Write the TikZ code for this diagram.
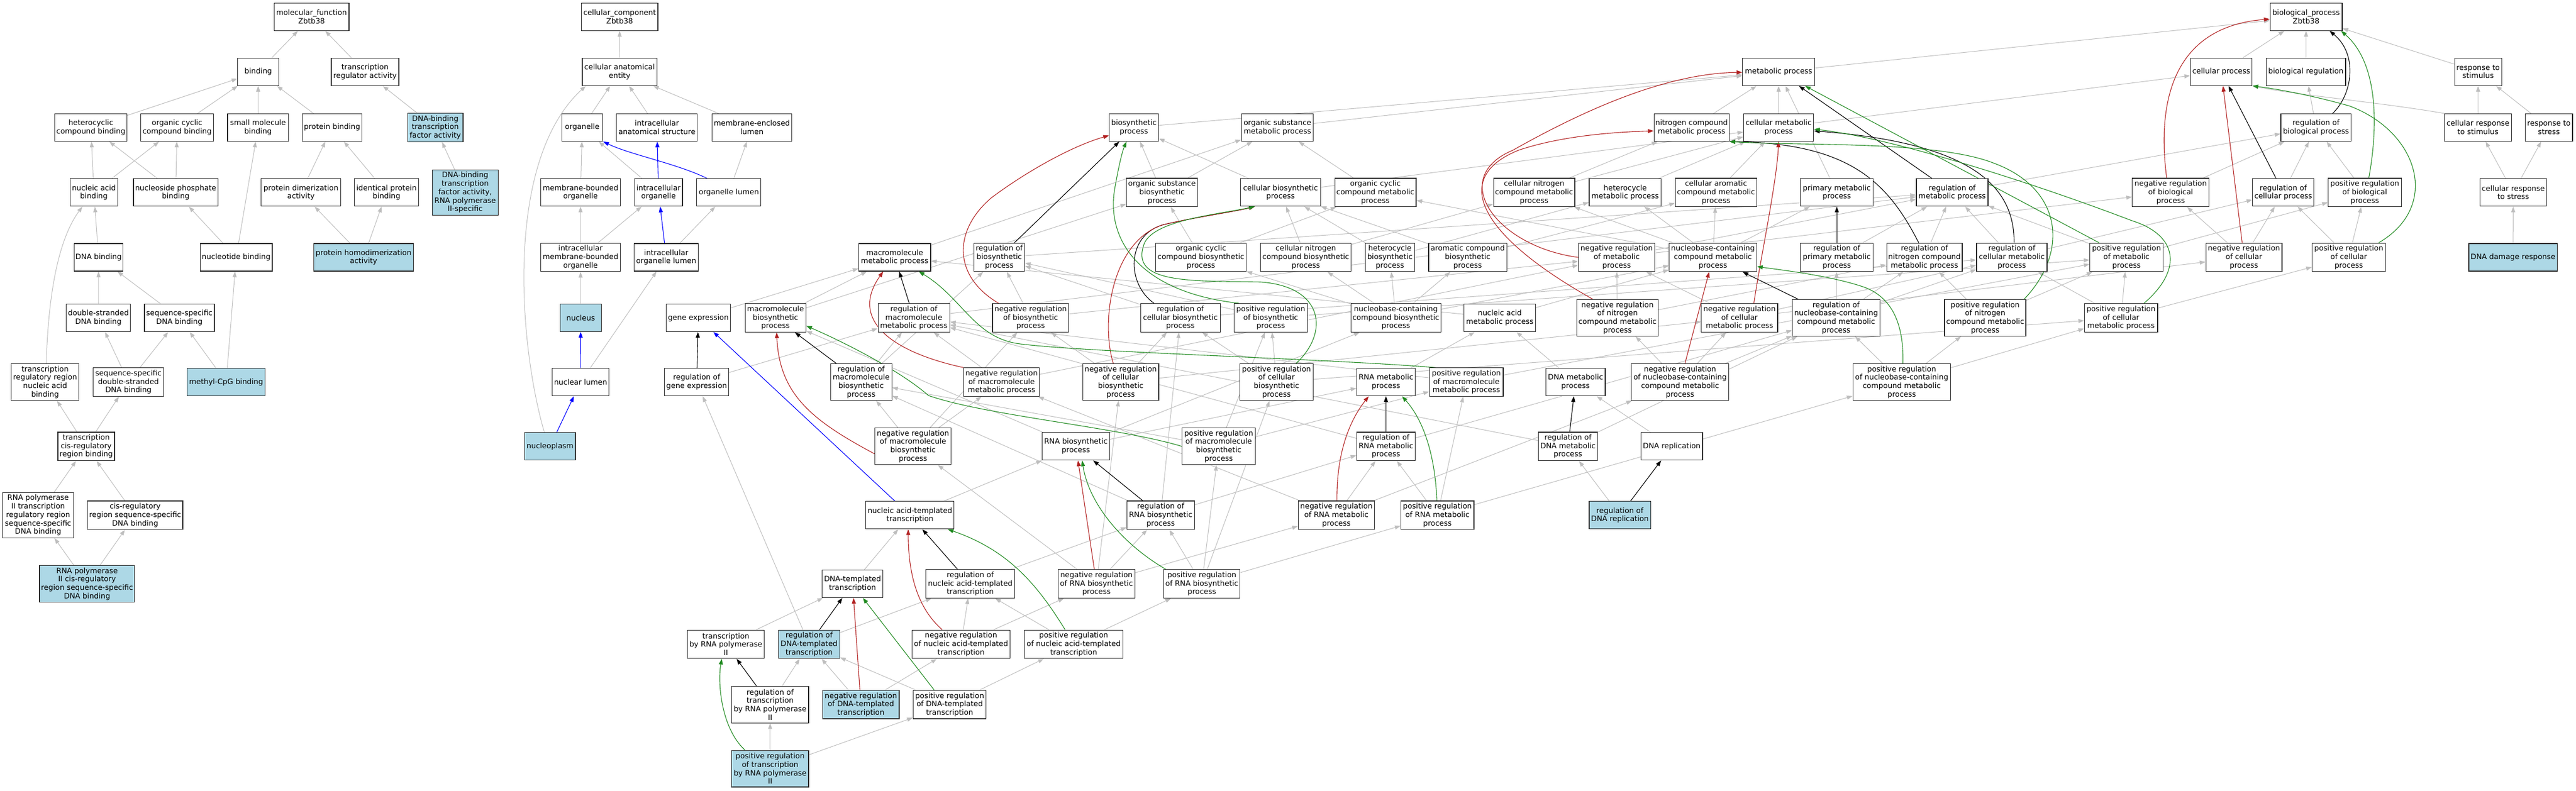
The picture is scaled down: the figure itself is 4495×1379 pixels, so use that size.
\documentclass[tikz,border=0pt]{standalone}
\usepackage{fontspec}
\setmainfont{DejaVu Sans}
\usetikzlibrary{arrows.meta}
\definecolor{eg}{RGB}{190,190,190}
\definecolor{lb}{RGB}{173,216,230}
\definecolor{fr}{RGB}{178,34,34}
\definecolor{fg}{RGB}{34,139,34}
\definecolor{bd}{RGB}{40,40,40}
\pgfdeclarelayer{edges}
\pgfsetlayers{edges,main}
\begin{document}
\begin{tikzpicture}[x=1pt,y=-1pt,
 box/.style={draw=bd,line width=1.2pt,fill=white,align=center,inner sep=1pt,minimum height=48pt,font=\fontsize{12.9}{14.7}\selectfont},
 hl/.style={fill=lb},
 t3/.style={minimum height=49.6pt},
 t4/.style={minimum height=63.8pt},
 t5/.style={minimum height=78.8pt},
 arw/.style={-{Triangle[length=10pt,width=7pt]}},
 eg0/.style={arw,color=eg,line width=1pt},
 gblack/.style={arw,color=black,line width=1.1pt},
 gred/.style={arw,color=fr,line width=1.1pt},
 ggreen/.style={arw,color=fg,line width=1.1pt},
 gblue/.style={arw,color=blue,line width=1.1pt}]
\useasboundingbox (0,0) rectangle (4495,1379);
% ---------------- R0
\node[box,minimum width=130.6pt] (mf) at (543.6,29.3) {molecular\_function\\Zbtb38};
\node[box,minimum width=133.5pt] (cc) at (1081.3,29.3) {cellular\_component\\Zbtb38};
\node[box,minimum width=125.8pt] (bp) at (4024,29.3) {biological\_process\\Zbtb38};
% ---------------- R1
\node[box,minimum width=71.7pt] (bind) at (450.6,125.2) {binding};
\node[box,minimum width=118pt] (tra) at (636.9,125.2) {transcription\\regulator activity};
\node[box,minimum width=130.6pt] (cae) at (1081.2,125.2) {cellular anatomical\\entity};
\node[box,minimum width=125.5pt] (met) at (3103.6,125.2) {metabolic process};
\node[box,minimum width=107.5pt] (cp) at (3876,125.2) {cellular process};
\node[box,minimum width=138.4pt] (breg) at (4023.7,125.2) {biological regulation};
\node[box,minimum width=82.1pt] (rstim) at (4324.2,125.2) {response to\\stimulus};
% ---------------- R2
\node[box,minimum width=125.8pt] (hcb) at (158.6,222.4) {heterocyclic\\compound binding};
\node[box,minimum width=126.3pt] (occb) at (309,222.4) {organic cyclic\\compound binding};
\node[box,minimum width=106.7pt] (smb) at (450.3,222.4) {small molecule\\binding};
\node[box,minimum width=103.8pt] (pb) at (579.5,222.4) {protein binding};
\node[box,hl,t3,minimum width=96.7pt] (dbtf) at (759.6,222.4) {DNA-binding\\transcription\\factor activity};
\node[box,minimum width=71.7pt] (org) at (1016,222.4) {organelle};
\node[box,minimum width=141.1pt] (ias) at (1146.3,222.4) {intracellular\\anatomical structure};
\node[box,minimum width=138.7pt] (mel) at (1312,222.4) {membrane-enclosed\\lumen};
\node[box,minimum width=85.7pt] (bio) at (1978.6,222.4) {biosynthetic\\process};
\node[box,minimum width=125.5pt] (osm) at (2229,222.4) {organic substance\\metabolic process};
\node[box,minimum width=131.1pt] (ncm) at (2951.7,222.4) {nitrogen compound\\metabolic process};
\node[box,minimum width=122.5pt] (cmp) at (3103.6,222.4) {cellular metabolic\\process};
\node[box,minimum width=122.7pt] (rbp) at (4041.3,222.4) {regulation of\\biological process};
\node[box,minimum width=117.2pt] (crstim) at (4323.9,222.4) {cellular response\\to stimulus};
\node[box,minimum width=82.6pt] (rstress) at (4447.6,222.4) {response to\\stress};
% ---------------- R3
\node[box,minimum width=82.8pt] (nab) at (163.8,335.8) {nucleic acid\\binding};
\node[box,minimum width=147.4pt] (npb) at (306.6,335.8) {nucleoside phosphate\\binding};
\node[box,minimum width=138.7pt] (pda) at (525.2,335.8) {protein dimerization\\activity};
\node[box,minimum width=112pt] (ipb) at (674.4,335.8) {identical protein\\binding};
\node[box,hl,t5,minimum width=114.8pt] (dbtf2) at (811.7,335.8) {DNA-binding\\transcription\\factor activity,\\RNA polymerase\\II-specific};
\node[box,minimum width=138.7pt] (mbo) at (1013,335.8) {membrane-bounded\\organelle};
\node[box,minimum width=83.7pt] (io) at (1149.1,335.8) {intracellular\\organelle};
\node[box,minimum width=111.9pt] (ol) at (1271.8,335.8) {organelle lumen};
\node[box,t3,minimum width=123.5pt] (osb) at (2027.6,335.8) {organic substance\\biosynthetic\\process};
\node[box,minimum width=139.3pt] (cbp) at (2234.5,335.8) {cellular biosynthetic\\process};
\node[box,t3,minimum width=141.8pt] (occm) at (2400,335.8) {organic cyclic\\compound metabolic\\process};
\node[box,t3,minimum width=141.8pt] (cncm) at (2677,335.8) {cellular nitrogen\\compound metabolic\\process};
\node[box,minimum width=125.5pt] (hmp) at (2835.8,335.8) {heterocycle\\metabolic process};
\node[box,t3,minimum width=141.8pt] (cacm) at (2994.4,335.8) {cellular aromatic\\compound metabolic\\process};
\node[box,minimum width=126.6pt] (pmp) at (3205.1,335.8) {primary metabolic\\process};
\node[box,minimum width=125pt] (rmp) at (3406.4,335.8) {regulation of\\metabolic process};
\node[box,t3,minimum width=133.8pt] (nrbp) at (3787.7,335.8) {negative regulation\\of biological\\process};
\node[box,minimum width=107pt] (rcp) at (3984.2,335.8) {regulation of\\cellular process};
\node[box,t3,minimum width=127.8pt] (prbp) at (4126.4,335.8) {positive regulation\\of biological\\process};
\node[box,minimum width=116.6pt] (crstress) at (4385.5,335.8) {cellular response\\to stress};
% ---------------- R4
\node[box,minimum width=85.6pt] (dnab) at (172,449) {DNA binding};
\node[box,minimum width=125.8pt] (ntb) at (412.1,449) {nucleotide binding};
\node[box,hl,minimum width=173.6pt] (phda) at (634.5,449) {protein homodimerization\\activity};
\node[box,t3,minimum width=138.7pt] (imbo) at (1013,449) {intracellular\\membrane-bounded\\organelle};
\node[box,minimum width=112.4pt] (iol) at (1162.5,449) {intracellular\\organelle lumen};
\node[box,minimum width=125.5pt] (mmp) at (1561.2,449) {macromolecule\\metabolic process};
\node[box,t3,minimum width=88.3pt] (rbio) at (1743.7,449) {regulation of\\biosynthetic\\process};
\node[box,t3,minimum width=157.7pt] (occb2) at (2095.6,449) {organic cyclic\\compound biosynthetic\\process};
\node[box,t3,minimum width=158.2pt] (cncb) at (2278.6,449) {cellular nitrogen\\compound biosynthetic\\process};
\node[box,t3,minimum width=86.3pt] (hbp) at (2425.3,449) {heterocycle\\biosynthetic\\process};
\node[box,t3,minimum width=136.2pt] (acb) at (2561,449) {aromatic compound\\biosynthetic\\process};
\node[box,t3,minimum width=132.6pt] (nrmp) at (2820.9,449) {negative regulation\\of metabolic\\process};
\node[box,t3,minimum width=152.5pt] (nbcm) at (2989,449) {nucleobase-containing\\compound metabolic\\process};
\node[box,t3,minimum width=126.6pt] (rpmp) at (3205.1,449) {regulation of\\primary metabolic\\process};
\node[box,t3,minimum width=131.6pt] (rncm) at (3358.1,449) {regulation of\\nitrogen compound\\metabolic process};
\node[box,t3,minimum width=122.9pt] (rcmp) at (3510.5,449) {regulation of\\cellular metabolic\\process};
\node[box,t3,minimum width=127.8pt] (prmp) at (3710.6,449) {positive regulation\\of metabolic\\process};
\node[box,t3,minimum width=132.8pt] (nrcp) at (3915.5,449) {negative regulation\\of cellular\\process};
\node[box,t3,minimum width=127.8pt] (prcp) at (4098.5,449) {positive regulation\\of cellular\\process};
\node[box,hl,minimum width=154.2pt] (ddr) at (4385,449) {DNA damage response};
% ---------------- R5
\node[box,minimum width=112pt] (dsdb) at (171.7,554.5) {double-stranded\\DNA binding};
\node[box,minimum width=122pt] (ssdb) at (313,554.5) {sequence-specific\\DNA binding};
\node[box,hl,minimum width=72.2pt] (nuc) at (1013.3,554.5) {nucleus};
\node[box,minimum width=112.4pt] (ge) at (1218.5,554.5) {gene expression};
\node[box,t3,minimum width=106.2pt] (mbp) at (1353.2,554.5) {macromolecule\\biosynthetic\\process};
\node[box,t3,minimum width=125pt] (rmmp) at (1594.6,554.5) {regulation of\\macromolecule\\metabolic process};
\node[box,t3,minimum width=132.7pt] (nrbio) at (1798.4,554.5) {negative regulation\\of biosynthetic\\process};
\node[box,t3,minimum width=138.8pt] (rcbp) at (2059.7,554.5) {regulation of\\cellular biosynthetic\\process};
\node[box,t3,minimum width=127.5pt] (prbio) at (2217.4,554.5) {positive regulation\\of biosynthetic\\process};
\node[box,t3,minimum width=157.2pt] (nbcb) at (2435.7,554.5) {nucleobase-containing\\compound biosynthetic\\process};
\node[box,minimum width=125pt] (namp) at (2617.1,554.5) {nucleic acid\\metabolic process};
\node[box,t4,minimum width=141.9pt] (nrncm) at (2822.4,554.5) {negative regulation\\of nitrogen\\compound metabolic\\process};
\node[box,t3,minimum width=133.1pt] (nrcmp) at (3035.4,554.5) {negative regulation\\of cellular\\metabolic process};
\node[box,t4,minimum width=152.5pt] (rnbcm) at (3203.9,554.5) {regulation of\\nucleobase-containing\\compound metabolic\\process};
\node[box,t4,minimum width=142pt] (prncm) at (3464,554.5) {positive regulation\\of nitrogen\\compound metabolic\\process};
\node[box,t3,minimum width=127.8pt] (prcmp) at (3701.1,554.5) {positive regulation\\of cellular\\metabolic process};
% ---------------- R6
\node[box,t4,minimum width=118.2pt] (trrnab) at (78.7,666.6) {transcription\\regulatory region\\nucleic acid\\binding};
\node[box,t3,minimum width=123pt] (ssdsdb) at (224.1,666.6) {sequence-specific\\double-stranded\\DNA binding};
\node[box,hl,minimum width=135.8pt] (mcpg) at (394.6,666.6) {methyl-CpG binding};
\node[box,minimum width=98.5pt] (nl) at (1013.1,666.6) {nuclear lumen};
\node[box,minimum width=112.4pt] (rge) at (1215.6,666.6) {regulation of\\gene expression};
\node[box,t4,minimum width=106.8pt] (rmbp) at (1502.7,666.6) {regulation of\\macromolecule\\biosynthetic\\process};
\node[box,t3,minimum width=132.2pt] (nrmmp) at (1747.7,666.6) {negative regulation\\of macromolecule\\metabolic process};
\node[box,t4,minimum width=132.6pt] (nrcbp) at (1955.6,666.6) {negative regulation\\of cellular\\biosynthetic\\process};
\node[box,t4,minimum width=128.5pt] (prcbp) at (2227.5,666.6) {positive regulation\\of cellular\\biosynthetic\\process};
\node[box,minimum width=102pt] (rnamp) at (2418.4,666.6) {RNA metabolic\\process};
\node[box,t3,minimum width=128.6pt] (prmmp) at (2558.7,666.6) {positive regulation\\of macromolecule\\metabolic process};
\node[box,minimum width=103.6pt] (dnamp) at (2749.2,666.6) {DNA metabolic\\process};
\node[box,t4,minimum width=170.4pt] (nrnbcm) at (2931.6,666.6) {negative regulation\\of nucleobase-containing\\compound metabolic\\process};
\node[box,t4,minimum width=170.4pt] (prnbcm) at (3318.4,666.6) {positive regulation\\of nucleobase-containing\\compound metabolic\\process};
% ---------------- R7
\node[box,t3,minimum width=99pt] (tcrrb) at (150.4,778.7) {transcription\\cis-regulatory\\region binding};
\node[box,hl,minimum width=88.5pt] (npl) at (959.8,778.7) {nucleoplasm};
\node[box,t4,minimum width=133.2pt] (nrmbp) at (1593.1,778.7) {negative regulation\\of macromolecule\\biosynthetic\\process};
\node[box,minimum width=117.8pt] (rnabp) at (1877.3,778.7) {RNA biosynthetic\\process};
\node[box,t4,minimum width=127.5pt] (prmbp) at (2126.6,778.7) {positive regulation\\of macromolecule\\biosynthetic\\process};
\node[box,t3,minimum width=102pt] (rrnamp) at (2418.4,778.7) {regulation of\\RNA metabolic\\process};
\node[box,t3,minimum width=103.6pt] (rdnamp) at (2736,778.7) {regulation of\\DNA metabolic\\process};
\node[box,minimum width=107.7pt] (dnarep) at (2917.1,778.7) {DNA replication};
% ---------------- R8
\node[box,t5,minimum width=123.4pt] (rp2trr) at (66.5,898.8) {RNA polymerase\\II transcription\\regulatory region\\sequence-specific\\DNA binding};
\node[box,t3,minimum width=166.4pt] (crrss) at (235.8,898.8) {cis-regulatory\\region sequence-specific\\DNA binding};
\node[box,minimum width=154.1pt] (natt) at (1587.8,898.8) {nucleic acid-templated\\transcription};
\node[box,t3,minimum width=117.9pt] (rrnabp) at (2025.3,898.8) {regulation of\\RNA biosynthetic\\process};
\node[box,t3,minimum width=133.2pt] (nrrnamp) at (2331.9,898.8) {negative regulation\\of RNA metabolic\\process};
\node[box,t3,minimum width=127.5pt] (prrnamp) at (2508.2,898.8) {positive regulation\\of RNA metabolic\\process};
\node[box,hl,minimum width=107.1pt] (rdnarep) at (2826.6,898.8) {regulation of\\DNA replication};
% ---------------- R9
\node[box,hl,t4,minimum width=165.9pt] (rp2crr) at (151.9,1018.5) {RNA polymerase\\II cis-regulatory\\region sequence-specific\\DNA binding};
\node[box,minimum width=106.3pt] (dtt) at (1487.6,1018.5) {DNA-templated\\transcription};
\node[box,t3,minimum width=154.6pt] (rnatt) at (1693.1,1018.5) {regulation of\\nucleic acid-templated\\transcription};
\node[box,t3,minimum width=133.7pt] (nrrnabp) at (1913.3,1018.5) {negative regulation\\of RNA biosynthetic\\process};
\node[box,t3,minimum width=133.2pt] (prrnabp) at (2097.2,1018.5) {positive regulation\\of RNA biosynthetic\\process};
% ---------------- R10
\node[box,t3,minimum width=133.9pt] (trp2) at (1266.6,1123.9) {transcription\\by RNA polymerase\\II};
\node[box,hl,t3,minimum width=106.7pt] (rdtt) at (1411.8,1123.9) {regulation of\\DNA-templated\\transcription};
\node[box,t3,minimum width=171.5pt] (nrnatt) at (1677,1123.9) {negative regulation\\of nucleic acid-templated\\transcription};
\node[box,t3,minimum width=171.4pt] (prnatt) at (1873.5,1123.9) {positive regulation\\of nucleic acid-templated\\transcription};
% ---------------- R11
\node[box,t4,minimum width=134.4pt] (rtrp2) at (1343.8,1229.2) {regulation of\\transcription\\by RNA polymerase\\II};
\node[box,hl,t3,minimum width=133.5pt] (nrdtt) at (1502.2,1229.2) {negative regulation\\of DNA-templated\\transcription};
\node[box,t3,minimum width=127.5pt] (prdtt) at (1657.1,1229.2) {positive regulation\\of DNA-templated\\transcription};
% ---------------- R12
\node[box,hl,t4,minimum width=134.4pt] (prtrp2) at (1343.8,1341) {positive regulation\\of transcription\\by RNA polymerase\\II};

\begin{pgfonlayer}{edges}
% gray straight edges
\foreach \a/\b in {bind/mf, tra/mf, hcb/bind, occb/bind, smb/bind, pb/bind, dbtf/tra, nab/hcb, nab/occb, npb/hcb, npb/occb, pda/pb, ipb/pb, dbtf2/dbtf, dnab/nab, ntb/npb, ntb/smb, phda/pda, phda/ipb, dsdb/dnab, ssdb/dnab, ssdsdb/dsdb, ssdsdb/ssdb, mcpg/ssdb, mcpg/ntb, tcrrb/trrnab, tcrrb/ssdsdb, rp2trr/tcrrb, crrss/tcrrb, rp2crr/rp2trr, rp2crr/crrss,
 cae/cc, org/cae, ias/cae, mel/cae, mbo/org, io/org, ol/mel, imbo/mbo, imbo/io, iol/ol, nuc/imbo, nl/iol,
 cp/bp, breg/bp, rstim/bp, met/bp, rbp/breg, nrbp/rbp, prbp/rbp, rcp/rbp, nrcp/nrbp, nrcp/rcp, prcp/prbp, prcp/rcp, crstim/rstim, rstress/rstim, crstress/crstim, crstress/rstress, ddr/crstress,
 bio/met, osm/met, ncm/met, cmp/met, cmp/cp, osb/bio, osb/osm, cbp/bio, cbp/cmp, occm/osm, cncm/ncm, cncm/cmp, hmp/cmp, cacm/cmp, pmp/met, rmp/rbp, mmp/osm, occb2/occm, occb2/osb, cncb/cncm, cncb/cbp, hbp/hmp, hbp/cbp, acb/cacm, acb/cbp,
 rbio/rmp, nrbio/rbio, nrbio/nrmp, prbio/rbio, prbio/prmp, rcbp/rbio, rcbp/rcmp, nrcbp/nrbio, nrcbp/rcbp, nrcbp/nrcmp, prcbp/prbio, prcbp/rcbp, prcbp/prcmp, nrmp/rmp, nrmp/nrbp,
 nbcm/cacm, nbcm/hmp, nbcm/occm, nbcm/cncm, nbcm/pmp, rpmp/rmp, rncm/rmp, rcmp/rmp, rcmp/rcp, prmp/rmp, prmp/prbp,
 ge/mmp, mbp/mmp, mbp/osb, rmmp/rmp, rmbp/rmmp, rmbp/rbio, rge/rmmp, nrmmp/rmmp, nrmmp/nrmp, prmmp/rmmp, prmmp/prmp,
 nbcb/nbcm, nbcb/hbp, nbcb/acb, nbcb/cncb, nbcb/occb2, namp/nbcm, namp/mmp, nrncm/nrmp, nrncm/rncm, nrcmp/nrmp, nrcmp/rcmp, nrcmp/nrcp,
 rnbcm/rpmp, rnbcm/rncm, rnbcm/rcmp, prncm/rncm, prncm/prmp, prcmp/rcmp, prcmp/prmp, prcmp/prcp, rnamp/namp, dnamp/namp,
 nrnbcm/rnbcm, nrnbcm/nrcmp, nrnbcm/nrncm, prnbcm/rnbcm, prnbcm/prncm, prnbcm/prcmp,
 nrmbp/nrmmp, nrmbp/rmbp, nrmbp/nrbio, rnabp/rnamp, rnabp/nbcb, rnabp/mbp, prmbp/prmmp, prmbp/rmbp, prmbp/prbio,
 rrnamp/rnbcm, rrnamp/rmmp, rdnamp/rnbcm, rdnamp/rmmp, dnarep/dnamp, natt/rnabp,
 rrnabp/rrnamp, rrnabp/rcbp, rrnabp/rmbp, nrrnamp/rrnamp, nrrnamp/nrnbcm, nrrnamp/nrmmp, prrnamp/rrnamp, prrnamp/prnbcm, prrnamp/prmmp, rdnarep/rdnamp,
 dtt/natt, rnatt/rrnabp, nrrnabp/rrnabp, nrrnabp/nrrnamp, nrrnabp/nrcbp, nrrnabp/nrmbp, prrnabp/rrnabp, prrnabp/prrnamp, prrnabp/prmbp, prrnabp/prcbp,
 trp2/dtt, rdtt/rnatt, rdtt/rge, nrnatt/rnatt, nrnatt/nrrnabp, prnatt/rnatt, prnatt/prrnabp,
 rtrp2/rdtt, nrdtt/rdtt, nrdtt/nrnatt, prdtt/rdtt, prdtt/prnatt, prtrp2/rtrp2, prtrp2/prdtt}
 \draw[eg0] (\a) -- (\b);
% gray curved edges
\draw[eg0] ([xshift=2pt]trrnab.north) .. controls (84,520) and (100,420) .. ([xshift=-20pt]nab.south);
\draw[eg0] ([xshift=-10pt]npl.north) .. controls (905,600) and (880,280) .. ([xshift=-59pt]cae.south);
\draw[eg0] (crstim.north west) .. controls (4150,178) and (4000,165) .. (cp.south east);
% blue
\foreach \a/\b in {io/ias, iol/io, nl/nuc, npl/nl, natt/ge} \draw[gblue] (\a) -- (\b);
\draw[gblue] ([xshift=-38pt]ol.north) .. controls (1180,285) and (1100,270) .. (org.south east);
% black
\foreach \a/\b in {rcp/cp, rmp/met, rpmp/pmp, rbio/bio, rmmp/mmp, rge/ge, rmbp/mbp, rnbcm/nbcm, rrnamp/rnamp, rdnamp/dnamp, rrnabp/rnabp, rdnarep/dnarep, rnatt/natt, rdtt/dtt, rtrp2/trp2} \draw[gblack] (\a) -- (\b);
\draw[gblack] ([xshift=29pt]rbp.north) .. controls (4105,165) and (4115,95) .. ([xshift=41pt]bp.south);
\draw[gblack] ([xshift=-10pt]rncm.north) .. controls (3295,320) and (3230,250) .. (ncm.south east);
\draw[gblack] ([xshift=4pt]rcmp.north) .. controls (3515,330) and (3450,250) .. ([yshift=-6pt]cmp.east);
\draw[gblack] ([xshift=-46pt]rcbp.north) .. controls (1965,495) and (1965,410) .. (2030,392) .. controls (2090,378) and (2150,370) .. ([xshift=-45pt]cbp.south);
% red
\foreach \a/\b in {nrcp/cp, nrnbcm/nbcm, nrrnabp/rnabp, nrdtt/dtt} \draw[gred] (\a) -- (\b);
\draw[gred] ([xshift=-7pt]nrbp.north) .. controls (3760,150) and (3810,45) .. ([yshift=-4pt]bp.west);
\draw[gred] (nrmp.west) .. controls (2610,430) and (2525,310) .. (2640,262) .. controls (2750,200) and (2900,128) .. ([yshift=-1pt]met.west);
\draw[gred] ([xshift=-43pt]nrncm.north) .. controls (2580,410) and (2530,310) .. (2650,262) .. controls (2730,235) and (2830,230) .. ([yshift=-6pt]ncm.west);
\draw[gred] ([xshift=25pt]nrcmp.north) .. controls (3072,450) and (3100,320) .. (cmp.south);
\draw[gred] (nrmmp.north west) .. controls (1560,615) and (1480,560) .. ([xshift=-20pt]mmp.south);
\draw[gred] ([xshift=11pt]nrbio.north west) .. controls (1660,480) and (1665,400) .. (1730,345) .. controls (1790,300) and (1870,255) .. ([yshift=-14pt]bio.west);
\draw[gred] ([xshift=-13pt]nrcbp.north) .. controls (1920,560) and (1940,420) .. (2030,392) .. controls (2090,378) and (2150,370) .. ([xshift=-45pt]cbp.south);
\draw[gred] ([yshift=-13pt]nrmbp.west) .. controls (1420,735) and (1360,690) .. ([xshift=2pt]mbp.south);
\draw[gred] ([xshift=1pt]nrrnamp.north) .. controls (2332,800) and (2350,740) .. ([xshift=-30pt]rnamp.south);
\draw[gred] ([xshift=-33pt]nrnatt.north) .. controls (1600,1060) and (1585,1000) .. ([xshift=-3pt]natt.south);
% green
\draw[ggreen] (prmp) -- (met);
\draw[ggreen] ([xshift=7pt]prbp.north) .. controls (4150,220) and (4150,110) .. ([xshift=61pt]bp.south);
\draw[ggreen] ([xshift=52pt]prcp.north) .. controls (4260,360) and (4220,230) .. (4100,185) .. controls (4030,165) and (3970,155) .. (cp.south east);
\draw[ggreen] ([xshift=68pt]prncm.north) .. controls (3610,440) and (3600,330) .. (3480,285) .. controls (3380,245) and (3150,255) .. (ncm.south east);
\draw[ggreen] ([xshift=40pt]prcmp.north) .. controls (3810,470) and (3800,410) .. (3720,385) .. controls (3550,320) and (3300,240) .. ([yshift=-3pt]cmp.east);
\draw[ggreen] ([xshift=-54pt]prmmp.north) .. controls (2300,625) and (1900,615) .. (1780,600) .. controls (1700,590) and (1680,520) .. ([xshift=42pt]mmp.south);
\draw[ggreen] ([xshift=-55pt]prbio.north) .. controls (1990,510) and (1930,420) .. (1945,330) .. controls (1952,290) and (1958,265) .. ([xshift=-13pt]bio.south);
\draw[ggreen] ([xshift=34pt]prcbp.north) .. controls (2320,580) and (2310,500) .. (2200,492) .. controls (2080,490) and (1975,495) .. (1995,430) .. controls (2005,385) and (2120,375) .. ([xshift=-45pt]cbp.south);
\draw[ggreen] (prmbp.west) .. controls (1950,745) and (1720,725) .. (1620,690) .. controls (1575,650) and (1480,600) .. ([yshift=-14pt]mbp.east);
\draw[ggreen] ([xshift=-1pt]prrnamp.north) .. controls (2505,810) and (2490,740) .. ([xshift=28pt]rnamp.south);
\draw[ggreen] ([xshift=2pt]prnbcm.north) .. controls (3322,580) and (3310,520) .. (3250,500) .. controls (3190,480) and (3100,470) .. ([yshift=-16pt]nbcm.east);
\draw[ggreen] ([xshift=-63pt]prrnabp.north) .. controls (1960,950) and (1900,880) .. ([xshift=11pt]rnabp.south);
\draw[ggreen] ([xshift=-15pt]prnatt.north) .. controls (1810,1020) and (1760,960) .. ([xshift=66pt]natt.south);
\draw[ggreen] ([xshift=-27pt]prdtt.north) -- ([xshift=18pt]dtt.south);
\draw[ggreen] ([xshift=-44pt]prtrp2.north) .. controls (1258,1270) and (1252,1190) .. ([xshift=-7pt]trp2.south);
\end{pgfonlayer}
\end{tikzpicture}
\end{document}
